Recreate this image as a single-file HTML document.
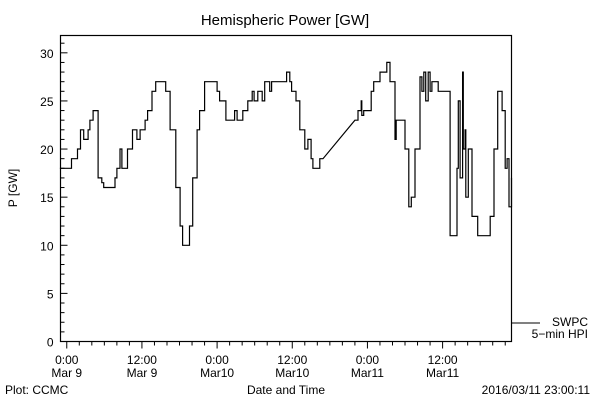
<!DOCTYPE html>
<html><head><meta charset="utf-8"><style>
body{margin:0;background:#fff}
svg text{font-family:"Liberation Sans",sans-serif;fill:#000}
</style></head><body>
<svg id="c" width="600" height="400" xmlns="http://www.w3.org/2000/svg">
<rect width="600" height="400" fill="#fff"/>
<text x="285" y="25" font-size="15" text-anchor="middle">Hemispheric Power [GW]</text>
<rect x="60.5" y="35.5" width="451" height="306" fill="none" stroke="#000" stroke-width="1.2"/>
<g id="yaxis"></g>
<g id="xaxis"></g>
<text transform="translate(17,188) rotate(-90)" font-size="12" text-anchor="middle">P [GW]</text>
<text x="286" y="394" font-size="12" text-anchor="middle">Date and Time</text>
<text x="5" y="394" font-size="12">Plot: CCMC</text>
<text x="590" y="394" font-size="12" text-anchor="end">2016/03/11 23:00:11</text>
<g>
<line x1="512" y1="323" x2="540" y2="323" stroke="#000"/>
<text x="588" y="326" font-size="12" text-anchor="end">SWPC</text>
<text x="588" y="338" font-size="12" text-anchor="end">5−min HPI</text>
</g>
<polyline id="series" fill="none" stroke="#000" stroke-width="1.2"/>
</svg>
<script>
const hours=[-1.1,0.75,0.76,1.7,1.71,2.2,2.7,3.4,3.7,4.2,4.3,5.0,5.6,5.9,7.3,7.7,8.0,8.5,8.8,9.3,9.7,10.5,11.2,11.7,12.5,12.9,13.6,14.2,15.2,15.8,16.5,17.4,18.1,18.5,19.2,19.6,20.1,20.8,21.2,22.0,23.5,24.0,24.4,25.4,26.2,26.8,27.2,27.6,28.1,28.9,29.6,29.9,30.5,31.2,31.6,32.4,32.7,33.7,35.1,35.6,35.9,36.6,37.2,38.0,38.5,39.0,39.3,40.1,40.4,40.9,46.0,46.5,47.0,47.1,47.4,48.6,49.0,50.0,51.1,51.6,52.4,52.6,53.4,54.0,54.6,55.0,55.6,56.4,56.7,57.0,57.3,57.7,58.0,58.3,59.3,61.2,61.8,62.3,62.5,62.8,63.2,63.3,63.6,63.7,64.1,64.7,65.6,66.9,67.6,68.2,68.8,69.2,69.5,70.0,70.3,70.6,71.0];
const power=[18,18,19,19,20,22,21,22,23,24,24,17,16.5,16,16,17,18,20,18,18,20,22,21,22,23,24,26,27,27,26,22,16,12,10,10,12,17,22,24,27,27,26,25,23,23,24,23,23,24,25,26,25,26,25,27,26,27,27,28,27,26,25,22,20,21,19,18,18,19,19,23,24,25,23.5,24,26,27,28,29,27,21,23,23,20,14,15,20,27.5,26,28,25,28,26,27,26,11,11,18,25,17,28,20,22,15,20,13,11,11,13,20,26,26,24,18,19,14,17];
const yTicks=[0,5,10,15,20,25,30];
const xTickHours=[0,12,24,36,48,60];
const xTickLabels=[["0:00","Mar 9"],["12:00","Mar 9"],["0:00","Mar10"],["12:00","Mar10"],["0:00","Mar11"],["12:00","Mar11"]];
const X0=60.5,X1=511.5,Y0=341.5,Y1=35.5,HMIN=-1,HMAX=71,VMAX=31.8;
const xs=h=>X0+(h-HMIN)/(HMAX-HMIN)*(X1-X0);
const ys=v=>Y0-v/VMAX*(Y0-Y1);
const NS="http://www.w3.org/2000/svg";
function mk(t,a,p){const e=document.createElementNS(NS,t);for(const k in a)e.setAttribute(k,a[k]);p.appendChild(e);return e;}
const ya=document.getElementById('yaxis'),xa=document.getElementById('xaxis');
for(let v=0;v<=31;v++){const y=ys(v);const major=v%5===0;
 const l=mk('line',{x1:X0,x2:X0+(major?7:4),y1:y,y2:y,stroke:'#000'},ya);
 
 }
yTicks.forEach(v=>{const t=mk('text',{x:X0-7,y:ys(v)+5,'font-size':12,'text-anchor':'end'},ya);t.textContent=v;
 
 });
for(let h=0;h<=70;h+=2){const x=xs(h);const major=h%12===0;
 const l=mk('line',{x1:x,x2:x,y1:Y0,y2:Y0+(major?7:4),stroke:'#000'},xa);
 
 }
xTickHours.forEach((h,i)=>{const x=xs(h);
 const t1=mk('text',{x:x,y:364,'font-size':12,'text-anchor':'middle'},xa);t1.textContent=xTickLabels[i][0];
 
 
 const t2=mk('text',{x:x,y:377,'font-size':12,'text-anchor':'middle'},xa);t2.textContent=xTickLabels[i][1];
 
 });
const pts=[];
for(let i=0;i<hours.length;i++){
 const x=xs(hours[i]),y=ys(power[i]);
 if(i>0 && hours[i]-hours[i-1]<3){pts.push(x.toFixed(1)+','+ys(power[i-1]).toFixed(1));}
 pts.push(x.toFixed(1)+','+y.toFixed(1));
}
document.getElementById('series').setAttribute('points',pts.join(' '));
</script>
</body></html>
